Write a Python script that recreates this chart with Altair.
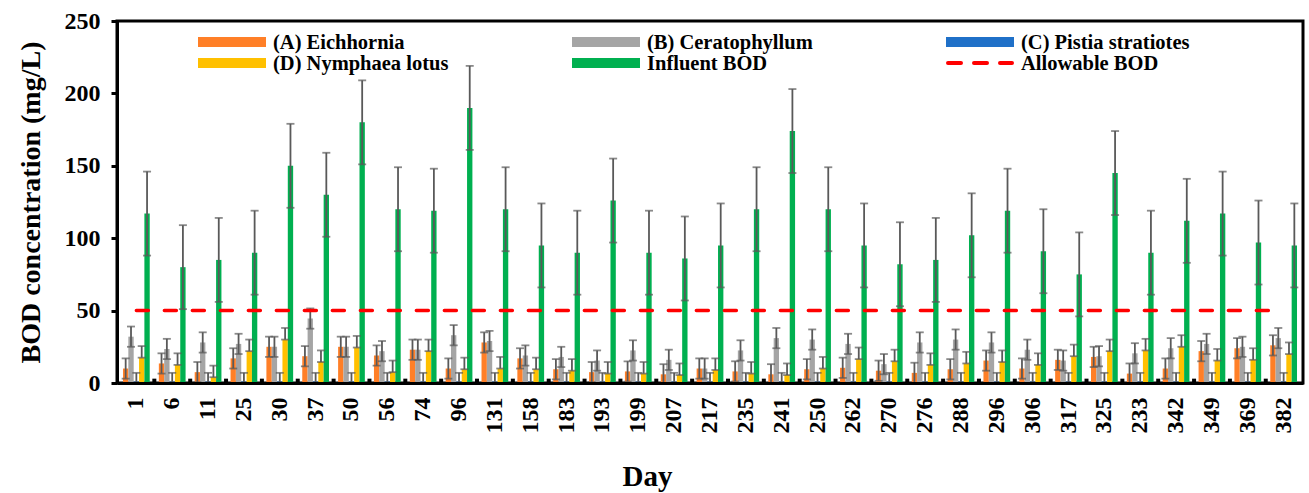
import altair as alt
import pandas as pd

# ---------------- data ----------------
days = ["1", "6", "11", "25", "30", "37", "50", "56", "74", "96", "131", "158",
        "183", "193", "199", "207", "217", "235", "241", "250", "262", "270",
        "276", "288", "296", "306", "317", "325", "233", "342", "349", "369", "382"]

eichhornia = [10, 13.5, 7.5, 17, 25, 18.5, 25, 19, 23, 10, 28, 17,
              9.5, 7.5, 8, 6, 10, 8, 6, 9.5, 10.5, 8.5,
              7, 9.5, 15.5, 10, 16, 18, 6.5, 10, 22, 24, 26]
ceratophyllum = [32, 23.5, 28, 27, 25, 44.5, 25, 22, 23, 33, 29, 19,
                 18, 15.5, 22.5, 16, 10, 22.5, 31, 30, 27, 13,
                 28, 30, 28, 23, 15.5, 18.5, 20.5, 24, 27, 25, 31]
pistia = [1, 1, 1, 1, 1, 1, 1, 1, 1, 1, 1, 1,
          1, 1, 1, 1, 1, 1, 1, 1, 1, 1,
          1, 1, 1, 1, 1, 1, 1, 1, 1, 1, 1]
nymphaea = [17.5, 12.5, 4, 22, 30, 14.5, 24.5, 7.5, 22, 9.5, 10, 9.5,
            8.5, 6.5, 6.5, 5.5, 9, 6.5, 5.5, 10, 16.5, 15,
            12.5, 13.5, 14.5, 12.5, 18.5, 22, 22.5, 25, 15.5, 16, 20]
influent = [117, 80, 85, 90, 150, 130, 180, 120, 119, 190, 120, 95,
            90, 126, 90, 86, 95, 120, 174, 120, 95, 82,
            85, 102, 119, 91, 75, 145, 90, 112, 117, 97, 95]
ALLOWABLE = 50

series_names = ["(A) Eichhornia", "(B) Ceratophyllum", "(C) Pistia stratiotes",
                "(D) Nymphaea lotus", "Influent BOD"]
series_values = [eichhornia, ceratophyllum, pistia, nymphaea, influent]
series_errors = [7, 7, 6, 8, 29]
line_name = "Allowable BOD"

colors = ["#FF7F27", "#A5A5A5", "#1F70C8", "#FFC000", "#00B050"]
line_color = "#FF0000"
err_color = "#595959"
FONT = "Liberation Serif"

# ---------------- tables ----------------
rows = []
for name, vals, err in zip(series_names, series_values, series_errors):
    for d, v in zip(days, vals):
        lo = v if name == "(D) Nymphaea lotus" else max(0, v - err)
        rows.append({"day": d, "series": name, "bod": v, "lo": lo, "hi": v + err})
df = pd.DataFrame(rows)
line_df = pd.DataFrame({"day": days, "allow": [ALLOWABLE] * len(days)})
tick_df = pd.DataFrame({"day": days[1:]})

x_scale = alt.Scale(paddingInner=0.254, paddingOuter=0.167)
y_scale = alt.Scale(domain=[0, 250], nice=False)

x_axis = alt.Axis(title="Day", labelAngle=270, ticks=False, labelOverlap=False,
                  domainColor="black", domainWidth=3, zindex=1,
                  labelFont=FONT, labelFontWeight="bold", labelFontSize=24,
                  labelColor="black", labelPadding=14,
                  titleFont=FONT, titleFontWeight="bold", titleFontSize=29,
                  titleColor="black", titleX=530, titleY=102,
                  titleBaseline="alphabetic", titleAlign="center")
y_axis = alt.Axis(title="BOD concentration (mg/L)", values=[0, 50, 100, 150, 200, 250],
                  grid=False, domainColor="black", domainWidth=3,
                  tickColor="black", tickWidth=3, tickSize=6,
                  labelFont=FONT, labelFontWeight="bold", labelFontSize=24,
                  labelColor="black", labelPadding=11,
                  titleFont=FONT, titleFontWeight="bold", titleFontSize=28,
                  titleColor="black", titleX=-72, titleY=181, titleAngle=270,
                  titleBaseline="bottom", titleAlign="center")

X = alt.X("day:N", sort=days, scale=x_scale, axis=x_axis)
XO = alt.XOffset("series:N", sort=series_names,
                 scale=alt.Scale(domain=series_names, paddingInner=0, paddingOuter=0))

base = alt.Chart(df)

bars = base.mark_bar().encode(
    x=X, xOffset=XO,
    y=alt.Y("bod:Q", scale=y_scale, axis=y_axis),
    color=alt.Color("series:N", scale=alt.Scale(domain=series_names, range=colors), legend=None),
)

err_rules = base.mark_rule(color=err_color, strokeWidth=1.8).encode(
    x=X, xOffset=XO, y=alt.Y("lo:Q", scale=y_scale), y2="hi:Q"
)

err_caps = base.transform_fold(["lo", "hi"], as_=["cap", "capv"]).mark_tick(
    color=err_color, size=8, thickness=1.8
).encode(x=X, xOffset=XO, y=alt.Y("capv:Q", scale=y_scale))

allow_line = alt.Chart(line_df).mark_line(
    color=line_color, strokeWidth=3.5, strokeDash=[12, 16], strokeCap="round"
).encode(x=X, y=alt.Y("allow:Q", scale=y_scale))

inner_ticks = alt.Chart(tick_df).mark_rule(color="black", strokeWidth=4, xOffset=-4.5).encode(
    x=alt.X("day:N", sort=days, scale=x_scale, bandPosition=0),
    y=alt.datum(0), y2=alt.datum(3),
)

# ---------------- legend (drawn manually, 3 columns x 2 rows) ----------------
# positions are relative to the plot area's top-left corner
legend_entries = series_names + [line_name]
legend_colors = colors + [line_color]
col_x = [81, 455, 829]
row_y = [21, 42]
sw_len = 68
legend_layers = []
for i, (name, colr) in enumerate(zip(legend_entries, legend_colors)):
    c, r = i % 3, i // 3
    x0 = col_x[c]
    y0 = row_y[r]
    ldf = pd.DataFrame({"label": [name]})
    if name == line_name:
        sw = alt.Chart(ldf).mark_rule(color=colr, strokeWidth=4, strokeDash=[13, 13],
                                      strokeCap="round").encode(
            x=alt.value(x0 + 2), x2=alt.value(x0 + sw_len - 2), y=alt.value(y0))
    else:
        sw = alt.Chart(ldf).mark_rule(color=colr, strokeWidth=10, strokeCap="butt").encode(
            x=alt.value(x0), x2=alt.value(x0 + sw_len), y=alt.value(y0))
    tx = alt.Chart(ldf).mark_text(align="left", baseline="middle", font=FONT,
                                  fontSize=20.5, fontWeight="bold", color="black").encode(
        x=alt.value(x0 + sw_len + 7), y=alt.value(y0 + 1), text="label:N")
    legend_layers += [sw, tx]

chart = alt.layer(bars, err_rules, err_caps, inner_ticks, allow_line, *legend_layers).properties(
    width=1186, height=362,
    autosize=alt.AutoSizeParams(type="none"),
    padding={"left": 117, "top": 21, "right": 6, "bottom": 110},
    background="white",
).configure_view(stroke="black", strokeWidth=3)

chart.save("out.html", embed_options={"renderer": "svg", "actions": False})
